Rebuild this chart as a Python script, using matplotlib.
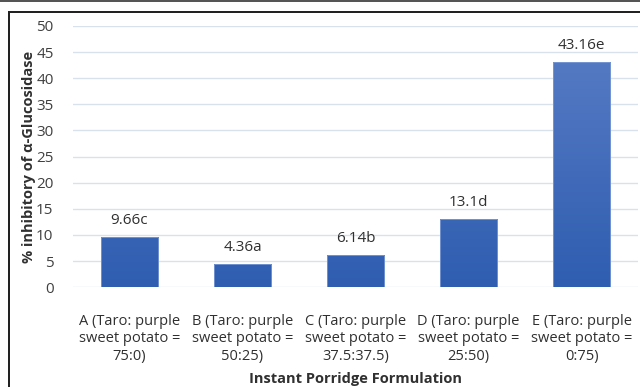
import numpy as np
import matplotlib
matplotlib.use("Agg")
import matplotlib.pyplot as plt
from matplotlib.colors import LinearSegmentedColormap
from matplotlib.patches import Rectangle

plt.rcParams['font.family'] = ['Open Sans', 'DejaVu Sans']

categories = [
    "A (Taro: purple\nsweet potato =\n75:0)",
    "B (Taro: purple\nsweet potato =\n50:25)",
    "C (Taro: purple\nsweet potato =\n37.5:37.5)",
    "D (Taro: purple\nsweet potato =\n25:50)",
    "E (Taro: purple\nsweet potato =\n0:75)",
]
values = [9.66, 4.36, 6.14, 13.1, 43.16]
letters = ["c", "a", "b", "d", "e"]
yticks = [0, 5, 10, 15, 20, 25, 30, 35, 40, 45, 50]

W, H = 640, 387
fig = plt.figure(figsize=(W / 100, H / 100), dpi=100)
ax = fig.add_axes([0.114, 0.258, 0.883, 0.675])

x = np.arange(len(values))
width = 0.505
bars = ax.bar(x, values, width=width, color="none", edgecolor="#7C9AD6", linewidth=0.6, zorder=3)

# vertical blue gradient inside each bar
cmap = LinearSegmentedColormap.from_list("bluegrad", ["#2F5DB0", "#5A7EC6"])
grad = np.linspace(0, 1, 256).reshape(-1, 1)
for b in bars:
    x0 = b.get_x()
    w = b.get_width()
    im = ax.imshow(grad, cmap=cmap, aspect="auto", origin="lower",
                   extent=[x0, x0 + w, 0, 50], zorder=2)
    im.set_clip_path(b)

for xi, v, l in zip(x, values, letters):
    ax.annotate(f"{v:g}{l}", (xi, v), xytext=(0, 6.5), textcoords="offset points",
                ha="center", va="bottom", fontsize=11, color="#303030")

ax.set_xlim(-0.5, 4.5)
ax.set_ylim(0, 50)
ax.set_yticks(yticks)
ax.set_xticks(x)
ax.set_xticklabels(categories, fontsize=10.5, color="#303030", linespacing=1.25)
ax.tick_params(axis="y", labelsize=11, colors="#404040", length=0, pad=14)
ax.tick_params(axis="x", length=0, pad=19)
ax.yaxis.grid(True, color="#D9E1EC", linewidth=1.0, zorder=0)
ax.set_axisbelow(True)
for s in ax.spines.values():
    s.set_visible(False)

ax.set_xlabel("Instant Porridge Formulation", fontsize=10.5, fontweight="bold",
              color="#303030", labelpad=6)
ax.set_ylabel("% inhibitory of \u03b1-Glucosidase", fontsize=10.5, fontweight="bold",
              color="#303030", labelpad=0)

# outer frame: thin grey band at the very top, border line below it and on the left
fig.add_artist(Rectangle((0, 1 - 2 / H), 1, 2 / H, transform=fig.transFigure,
                         facecolor="#555555", edgecolor="none"))
fig.add_artist(Rectangle((8 / W, 1 - 12.5 / H), 1, 1.6 / H, transform=fig.transFigure,
                         facecolor="#222222", edgecolor="none"))
fig.add_artist(Rectangle((8 / W, 0), 1.6 / W, 1 - 11 / H, transform=fig.transFigure,
                         facecolor="#222222", edgecolor="none"))

fig.savefig("out.png", dpi=100)
